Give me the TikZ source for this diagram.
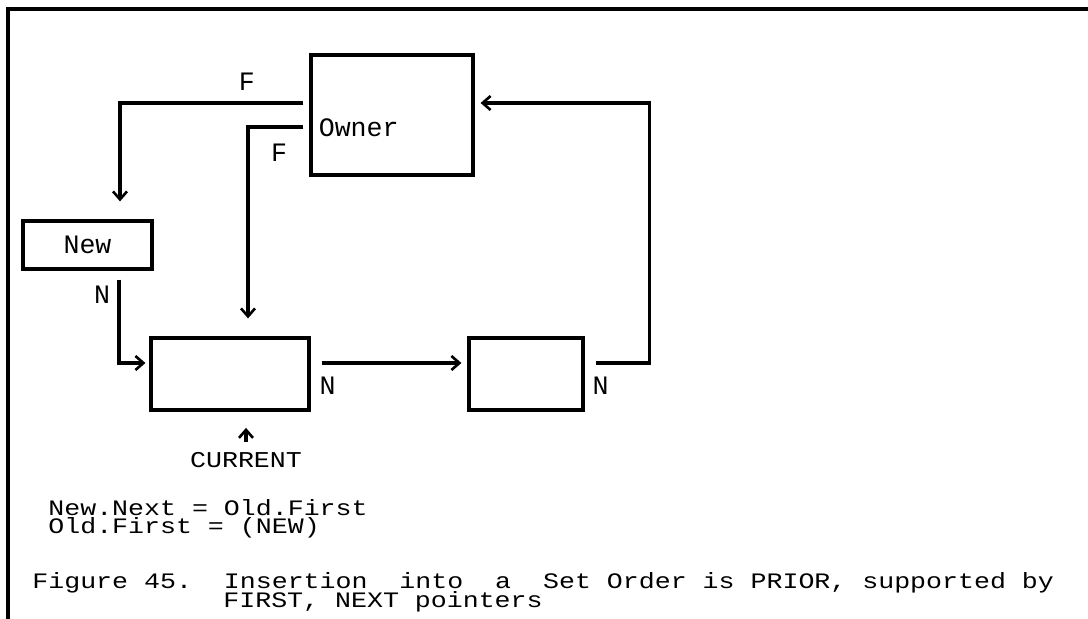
\documentclass[tikz,border=0pt]{standalone}
\usepackage{fontspec}
\setmainfont{Liberation Mono}
\usetikzlibrary{arrows.meta,positioning,calc}

\begin{document}
\begin{tikzpicture}[
    x=0.5pt, y=-0.5pt,
    font=\fontsize{13.3}{16}\selectfont,
    rec/.style={draw, line width=1.6pt, inner sep=0pt},
    arr/.style={-{Straight Barb[length=4pt,width=7pt,line width=1.3pt]}, line width=1.6pt},
    lbl/.style={inner sep=0pt}
]
\useasboundingbox (0,0) rectangle (1088,619);
\draw[line width=1.6pt] (8,619) -- (8,9) -- (1088,9);

% records
\node[rec, minimum width=81pt, minimum height=60pt] (owner) at (392,115) {};
\node[lbl, anchor=west] (ownertxt) at ([shift={(9,13)}]owner.west) {Owner};
\node[rec, minimum width=64.5pt, minimum height=24pt] (new) at (87.5,245) {New};
\node[rec, minimum width=79pt, minimum height=36pt] (cur) at (230,374) {};
\node[rec, minimum width=57pt, minimum height=36pt] (nxt) at (526,374) {};
\node[lbl] (curlbl) at (246,460) {\scalebox{1}[0.85]{CURRENT}};

% pointers
\draw[arr] ([shift={(-6,-12)}]owner.west) -| node[lbl, pos=0.154, yshift=10.5pt] {F} ([shift={(32.5,-18)}]new.north);
\draw[arr] ([shift={(-6,12)}]owner.west) -| node[lbl, pos=0.22, yshift=-13pt] {F} ([shift={(18,-18)}]cur.north);
\draw[arr] ([shift={(31.5,9)}]new.south) |- node[lbl, pos=0.088, xshift=-8.5pt] {N} ([shift={(-4,-11)}]cur.west);
\draw[arr] ([shift={(11,-11)}]cur.east) node[lbl, xshift=3pt, yshift=-11.5pt] {N} -- ([shift={(-6,-11)}]nxt.west);
\draw[arr] ([shift={(11,-11)}]nxt.east) node[lbl, xshift=2.5pt, yshift=-11.5pt] {N} -- ++(54,0) |- ([shift={(6,-12)}]owner.east);
\draw[arr, shorten <=5pt] (curlbl.north) -- ++(0,-24);

% text below
\node[lbl, anchor=base west] (eq1) at (48,516) {\scalebox{1}[0.83]{New.Next = Old.First}};
\node[lbl, anchor=base west] (eq2) at (48,534) {\scalebox{1}[0.83]{Old.First = (NEW)}};
\node[lbl, anchor=base west] (cap1) at (32,589) {\scalebox{1}[0.83]{Figure 45.~~Insertion~~into~~a~~Set Order is PRIOR, supported by}};
\node[lbl, anchor=base west] (cap2) at (223,608) {\scalebox{1}[0.83]{FIRST, NEXT pointers}};
\end{tikzpicture}
\end{document}
